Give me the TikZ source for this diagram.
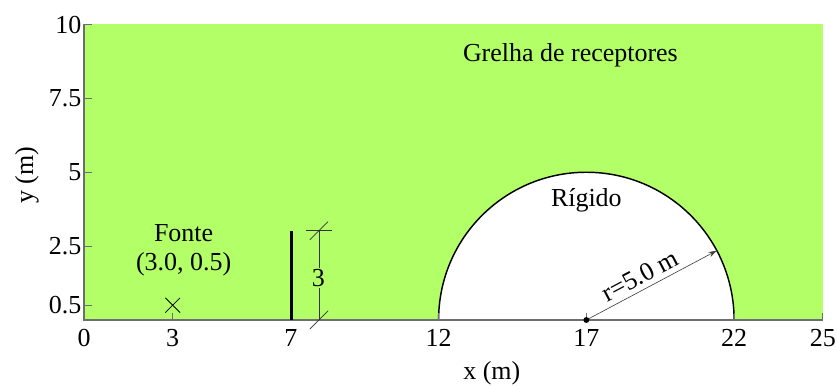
\documentclass[tikz,border=0pt]{standalone}
\usepackage{fontspec}
\setmainfont{Liberation Serif}
\usetikzlibrary{arrows.meta,calc}
\definecolor{grelha}{RGB}{178,255,104}
\definecolor{axisgray}{RGB}{110,110,110}
\begin{document}
\begin{tikzpicture}[
  lbl/.style={font=\fontsize{25}{28}\selectfont, inner sep=0pt},
  axisline/.style={draw=axisgray, line width=1.3pt},
  tickline/.style={draw=axisgray, line width=0.9pt},
  thinline/.style={draw=black!80, line width=0.6pt}
]
\useasboundingbox (-2.843,-2.2) rectangle (25.516,10.829);
% domain
\fill[grelha] (0,0) rectangle (25,10);
\coordinate (c) at (17,0);
\fill[white] (12,0) arc[start angle=180, end angle=0, radius=5] -- cycle;
\draw[black, line width=1.4pt] (12,0) arc[start angle=180, end angle=0, radius=5];
% axes
\coordinate (o) at (0,0);
\coordinate (xe) at (25,0);
\coordinate (ye) at (0,10);
\draw[axisline] (ye) -- (o) -- (xe);
\foreach \v in {3,7,12,17,22,25} \draw[tickline] (\v,0) -- ++(0,0.25);
\foreach \v in {0.5,2.5,5,7.5,10} \draw[tickline] (0,\v) -- ++(0.27,0);
\foreach \v/\t in {0/0,3/3,7/7,12/12,17/17,22/22,25/25}
  \node[lbl, anchor=base] (xt\v) at (\v,-0.90) {\t};
\foreach \v/\n in {0.5/a,2.5/b,5/c,7.5/d,10/e}
  \node[lbl, anchor=east] (yt\n) at (-0.08,\v) {\v};
\node[lbl, anchor=base] (xlab) at (13.8,-2.0) {x (m)};
\node[lbl, rotate=90] (ylab) at (-1.93,4.9) {y (m)};
% labels
\node[lbl, anchor=base] (grelha) at (16.46,8.74) {Grelha de receptores};
\node[lbl, anchor=base] (fonte) at (3.37,2.65) {Fonte};
\node[lbl, anchor=base] (fontec) at (3.37,1.69) {(3.0, 0.5)};
\node[lbl, anchor=base] (rigido) at (17,3.83) {Rígido};
% source
\coordinate (src) at (3,0.5);
\draw[black, line width=0.8pt] ($(src)+(-0.25,-0.25)$) -- ($(src)+(0.25,0.25)$)
  ($(src)+(-0.25,0.25)$) -- ($(src)+(0.25,-0.25)$);
% barrier
\coordinate (bb) at (7.03,0);
\coordinate (bt) at (7.03,3.02);
\draw[black, line width=3pt] (bb) -- (bt);
% dimension
\coordinate (db) at (7.95,0);
\coordinate (dt) at (7.95,3.02);
\draw[thinline] (db) -- (dt);
\draw[thinline] ($(dt)+(-0.43,0)$) -- ($(dt)+(0.43,0)$);
\draw[thinline] ($(dt)+(-0.31,-0.31)$) -- ($(dt)+(0.31,0.31)$);
\draw[thinline] ($(db)+(-0.31,-0.31)$) -- ($(db)+(0.31,0.31)$);
\node[lbl, fill=grelha, inner sep=1pt] (dim) at (7.93,1.42) {3};
% radius
\coordinate (re) at ($(c)+(28:5)$);
\draw[black!75, line width=0.6pt, -{Stealth[length=8pt,width=5pt]}] (c) -- (re);
\fill[black] (c) circle[radius=0.1];
\node[lbl, rotate=28] (rlab) at ($(c)+(28:2.32)+(118:0.475)$) {r=5.0 m};
\end{tikzpicture}
\end{document}
